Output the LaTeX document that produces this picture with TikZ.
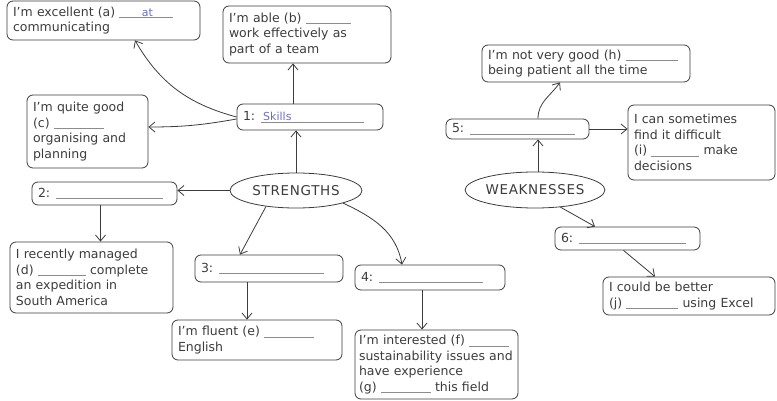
\documentclass[tikz,border=0pt]{standalone}
\usepackage{xcolor}
\usepackage{fontspec}
\setmainfont{DejaVu Sans}
\usetikzlibrary{shapes.geometric,arrows.meta}
\definecolor{pen}{HTML}{3C3C3C}
\definecolor{ink}{HTML}{6B6FC0}
\definecolor{rulegray}{HTML}{8C8C8C}
\newcommand\gap[1]{\textcolor{rulegray}{\rule[-1.5pt]{#1}{0.6pt}}}
\newcommand\written[3][c]{\rlap{\gap{#2}}\makebox[#2][#1]{\textcolor{ink}{\fontsize{11}{11}\selectfont\,#3}}}
\tikzset{box/.style={draw=pen,rounded corners=6pt,line width=0.8pt,inner xsep=6pt,align=left,text=pen},topic/.style={draw=pen,ellipse,line width=0.8pt,inner sep=0pt,text=pen,font=\fontsize{13.5}{13.5}\selectfont\addfontfeature{LetterSpace=5}},link/.style={draw=pen,line width=0.8pt,-{Straight Barb[length=6pt,width=10pt]}}}

\begin{document}
\begin{tikzpicture}[x=1pt,y=1pt,font=\fontsize{12.5}{15.5}\selectfont]
			\useasboundingbox (0,0) rectangle (777,-401);
			% Strengths
			\node[topic,minimum width=132pt,minimum height=35pt] (strengths) at (296,-190.5) {STRENGTHS};
			\node[box,text width=134pt,minimum height=26pt] (skills) at (310,-117) {1: \written[l]{103pt}{Skills}};
			\node[box,text width=181pt,minimum height=39pt] (communicating) at (103.5,-20.5) {I’m excellent (a) \written{54pt}{at}\\communicating};
			\node[box,text width=156pt,minimum height=57pt] (teamwork) at (307,-34.5) {I’m able (b) \gap{45pt}\\work effectively as\\part of a team};
			\node[box,text width=109pt,minimum height=73pt] (organising) at (87.5,-131.5) {I’m quite good\\(c) \gap{50pt}\\organising and\\planning};
			\node[box,text width=133pt,minimum height=23pt] (two) at (104.5,-193.5) {2: \gap{107pt}};
			\node[box,text width=151pt,minimum height=71pt] (expedition) at (91.5,-277.5) {I recently managed\\(d) \gap{48pt} complete\\an expedition in\\South America};
			\node[box,text width=136pt,minimum height=27pt] (three) at (269,-268.5) {3: \gap{105pt}};
			\node[box,text width=158pt,minimum height=40pt] (english) at (257,-340) {I’m fluent (e) \gap{50pt}\\English};
			\node[box,text width=138pt,minimum height=25pt] (four) at (430,-277.5) {4: \gap{104pt}};
			\node[box,inner xsep=4pt,text width=155pt,minimum height=69pt] (sustain) at (436.5,-364.5) {I’m interested (f) \gap{40pt}\\sustainability issues and\\have experience\\(g) \gap{50pt} this field};
			\draw[link] (skills.west) to[out=165,in=-60] ([xshift=31.5pt]communicating.south);
			\draw[link] ([yshift=-2pt]skills.west) to[out=190,in=0] ([yshift=4.5pt]organising.east);
			\draw[link] ([xshift=-17pt]skills.north) -- ([xshift=-17pt]skills.north |- teamwork.south);
			\draw[link] (strengths.north) -- (strengths.north |- skills.south);
			\draw[link] (strengths.west) -- (strengths.west -| two.east);
			\draw[link] ([xshift=-4pt]two.south) -- ([xshift=-4pt]two.south |- expedition.north);
			\draw[link] (strengths.208) -- ([xshift=-29pt]three.north);
			\draw[link] (strengths.345) to[out=-25,in=100] ([xshift=-28pt]four.north);
			\draw[link] ([xshift=-22pt]three.south) -- ([xshift=-22pt]three.south |- english.north);
			\draw[link] ([xshift=-8pt]four.south) -- ([xshift=-8pt]four.south |- sustain.north);
			% Weaknesses
			\node[topic,minimum width=130pt,minimum height=36pt] (weaknesses) at (535,-190) {WEAKNESSES};
			\node[box,text width=131pt,minimum height=20pt] (five) at (517.5,-129) {5: \gap{105pt}};
			\node[box,text width=196pt,minimum height=37pt] (patient) at (586,-63.5) {I’m not very good (h) \gap{52pt}\\being patient all the time};
			\node[box,text width=135pt,minimum height=75pt] (decisions) at (701.5,-142.5) {I can sometimes\\find it difficult\\(i) \gap{48pt} make\\decisions};
			\node[box,text width=133pt,minimum height=23pt] (six) at (627.5,-238.5) {6: \gap{107pt}};
			\node[box,text width=160pt,minimum height=38pt] (excel) at (689,-296) {I could be better\\(j) \gap{52pt} using Excel};
			\draw[link] ([xshift=3pt]weaknesses.north) -- ([xshift=3pt]weaknesses.north |- five.south);
			\draw[link] ([xshift=20.5pt]five.north) to[out=90,in=-125] ([xshift=-26pt]patient.south);
			\draw[link] (five.east) -- (five.east -| decisions.west);
			\draw[link] (weaknesses.326) -- ([xshift=-32.5pt]six.north);
			\draw[link] ([xshift=-4pt]six.south) -- ([xshift=-34pt]excel.north);
		\end{tikzpicture}
\end{document}
